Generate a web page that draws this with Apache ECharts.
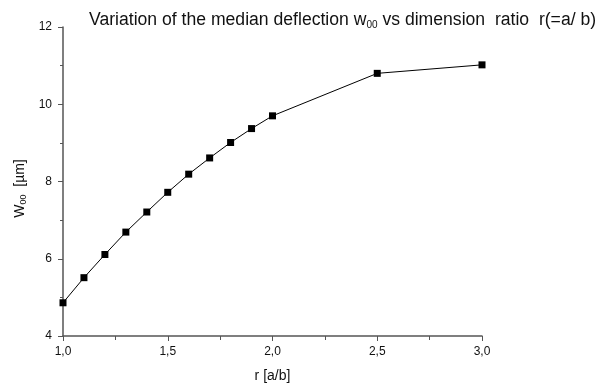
<!DOCTYPE html>
<html>
<head>
<meta charset="utf-8">
<script src="https://cdn.jsdelivr.net/npm/echarts@6/dist/echarts.min.js"></script>
<style>
  html, body { margin: 0; padding: 0; background: #fff; }
  #chart { width: 606px; height: 388px; }
</style>
</head>
<body>
<div id="chart"></div>
<script>
// Dimension ratio r = a/b and the median deflection w00 in µm
const ratios = [1.0, 1.1, 1.2, 1.3, 1.4, 1.5, 1.6, 1.7, 1.8, 1.9, 2.0, 2.5, 3.0];
const deflections = [4.86, 5.51, 6.11, 6.69, 7.21, 7.72, 8.19, 8.61, 9.01, 9.37, 9.70, 10.80, 11.02];

const xTicks = [1.0, 1.5, 2.0, 2.5, 3.0];
const yTicks = [4, 6, 8, 10, 12];

const font = 'Liberation Sans, Arial, sans-serif';
const axisColor = '#555';
const comma = v => v.toFixed(1).replace('.', ',');

const chart = echarts.init(document.getElementById('chart'), null, { renderer: 'canvas' });

chart.setOption({
  animation: false,
  backgroundColor: '#fff',
  title: {
    text: 'Variation of the median deflection w{sub|00} vs dimension  ratio  r(=a/ b)',
    left: 84,
    top: 6,
    textStyle: {
      fontFamily: font,
      fontSize: 17.6,
      fontWeight: 'normal',
      color: '#111',
      rich: {
        sub: { fontFamily: font, fontSize: 10, color: '#111', verticalAlign: 'bottom', padding: [9, 0, 0, 0] }
      }
    }
  },
  grid: { left: 63, right: 124, top: 27, bottom: 48 },
  xAxis: {
    type: 'value',
    min: xTicks[0],
    max: xTicks[xTicks.length - 1],
    interval: 0.5,
    name: 'r [a/b]',
    nameLocation: 'middle',
    nameGap: 33,
    nameTextStyle: { fontFamily: font, fontSize: 14, color: '#111' },
    axisLine: { lineStyle: { color: axisColor, width: 1.5 } },
    axisTick: { show: true, length: 5, lineStyle: { color: axisColor } },
    minorTick: { show: true, splitNumber: 2, length: 4, lineStyle: { color: axisColor } },
    splitLine: { show: false },
    axisLabel: { fontFamily: font, fontSize: 12, color: '#111', margin: 10, formatter: comma }
  },
  yAxis: {
    type: 'value',
    min: yTicks[0],
    max: yTicks[yTicks.length - 1],
    interval: 2,
    name: 'W{sub|00}  [µm]',
    nameLocation: 'middle',
    nameGap: 30,
    nameRotate: 90,
    nameTextStyle: {
      fontFamily: font,
      fontSize: 14,
      color: '#111',
      padding: [0, 14, 0, 0],
      rich: {
        sub: { fontFamily: font, fontSize: 9, color: '#111', padding: [7, 0, 0, 0] }
      }
    },
    axisLine: { show: true, lineStyle: { color: axisColor, width: 1.5 } },
    axisTick: { show: true, length: 5, lineStyle: { color: axisColor } },
    minorTick: { show: true, splitNumber: 2, length: 3, lineStyle: { color: axisColor } },
    splitLine: { show: false },
    axisLabel: { fontFamily: font, fontSize: 12, color: '#111', margin: 11 }
  },
  series: [{
    type: 'line',
    data: ratios.map((r, i) => [r, deflections[i]]),
    symbol: 'rect',
    symbolSize: 7,
    itemStyle: { color: '#000' },
    lineStyle: { color: '#000', width: 1 },
    clip: true
  }]
});
</script>
</body>
</html>
